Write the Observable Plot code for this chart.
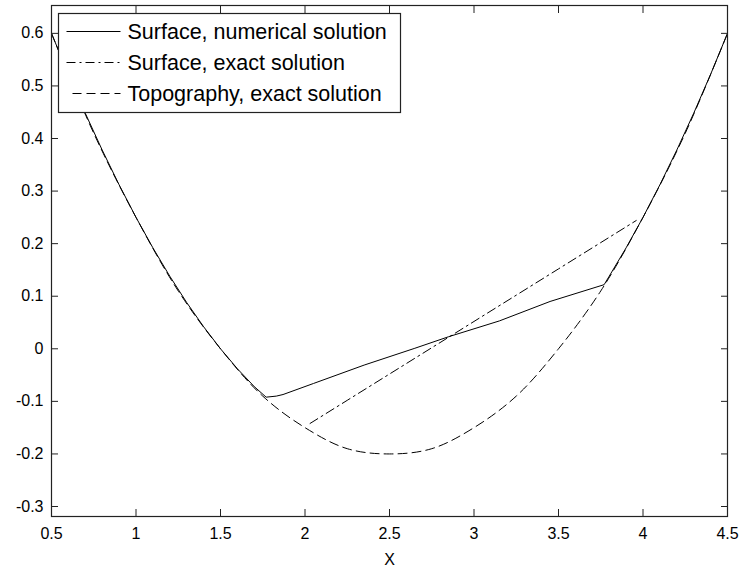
<!DOCTYPE html>
<html><head><meta charset="utf-8">
<script src="https://cdn.jsdelivr.net/npm/d3@7"></script>
<script src="https://cdn.jsdelivr.net/npm/@observablehq/plot@0.6"></script>
<style>body{margin:0;background:#fff}#chart{position:relative;width:740px;height:571px}</style>
</head><body><div id="chart"></div>
<script>
// Surface, numerical solution
const numX = [0.5, 0.6, 0.7, 0.8, 0.9, 1.0, 1.1, 1.2, 1.3, 1.4, 1.5, 1.6, 1.7, 1.77, 1.83, 1.87, 2.05, 2.35, 2.65, 2.85, 3.15, 3.45, 3.77, 3.8, 3.9, 4.0, 4.1, 4.2, 4.3, 4.4, 4.5];
const numY = [0.6, 0.522, 0.448, 0.378, 0.312, 0.25, 0.192, 0.138, 0.088, 0.042, 0.0, -0.038, -0.072, -0.092, -0.090, -0.087, -0.066, -0.031, 0.001, 0.023, 0.053, 0.090, 0.122, 0.138, 0.192, 0.25, 0.312, 0.378, 0.448, 0.522, 0.6];
// Surface, exact solution
const exactX = [2.03, 2.25, 2.5, 2.75, 3.0, 3.25, 3.5, 3.75, 3.96];
const exactY = [-0.142, -0.098, -0.048, 0.002, 0.052, 0.102, 0.152, 0.202, 0.244];
// Topography, exact solution
const topoX = [0.5, 0.75, 1.0, 1.25, 1.5, 1.75, 2.0, 2.25, 2.5, 2.75, 3.0, 3.25, 3.5, 3.75, 4.0, 4.25, 4.5];
const topoY = [0.6, 0.41, 0.25, 0.11, 0.0, -0.09, -0.15, -0.19, -0.2, -0.19, -0.15, -0.09, 0.0, 0.11, 0.25, 0.41, 0.6];

const xTicks = [0.5, 1, 1.5, 2, 2.5, 3, 3.5, 4, 4.5];
const yTicks = [-0.3, -0.2, -0.1, 0, 0.1, 0.2, 0.3, 0.4, 0.5, 0.6];
const xLabel = "X";
const seriesNames = ["Surface, numerical solution", "Surface, exact solution", "Topography, exact solution"];

const num = numX.map((x, i) => ({x, y: numY[i]}));
const exact = exactX.map((x, i) => ({x, y: exactY[i]}));
const topo = topoX.map((x, i) => ({x, y: topoY[i]}));

const dashes = [null, "9,4,2,4", "9,5"];
const axisColor = "#222";
const fmt = d => String(+d.toFixed(1));
const none = () => "";
const T = 7; // tick length (inward)

const chart = Plot.plot({
  width: 740, height: 571,
  marginLeft: 51, marginRight: 13, marginTop: 5, marginBottom: 55,
  style: {fontFamily: "'Liberation Sans', Arial, sans-serif", fontSize: "16px", background: "#fff", color: "#000", overflow: "visible"},
  x: {domain: [0.5, 4.5]},
  y: {domain: [-0.319, 0.653]},
  marks: [
    Plot.line(topo, {x: "x", y: "y", stroke: "#000", strokeWidth: 1, strokeDasharray: dashes[2], curve: "catmull-rom"}),
    Plot.line(exact, {x: "x", y: "y", stroke: "#000", strokeWidth: 1, strokeDasharray: dashes[1]}),
    Plot.line(num, {x: "x", y: "y", stroke: "#000", strokeWidth: 1}),
    Plot.frame({stroke: axisColor, strokeWidth: 1.2}),
    // tick labels
    Plot.axisX({ticks: xTicks, tickSize: 0, tickPadding: 11, tickFormat: d => String(d), label: null}),
    Plot.axisY({ticks: yTicks, tickSize: 0, tickPadding: 8, tickFormat: fmt, label: null}),
    // inward tick marks on all four sides
    Plot.axisX({ticks: xTicks, tickSize: T, dy: -T, tickFormat: none, label: null, stroke: axisColor}),
    Plot.axisX({anchor: "top", ticks: xTicks, tickSize: T, dy: T, tickFormat: none, label: null, stroke: axisColor}),
    Plot.axisY({ticks: yTicks, tickSize: T, dx: T, tickFormat: none, label: null, stroke: axisColor}),
    Plot.axisY({anchor: "right", ticks: yTicks, tickSize: T, dx: -T, tickFormat: none, label: null, stroke: axisColor}),
    Plot.text([xLabel], {frameAnchor: "bottom", lineAnchor: "middle", dy: 43, text: d => d, fontSize: 16})
  ]
});
document.getElementById("chart").appendChild(chart);

// Legend (drawn inside the plot frame, top-left)
const svg = d3.select(chart);
const lg = svg.append("g").attr("transform", "translate(58.5,13.5)");
lg.append("rect").attr("width", 342).attr("height", 99).attr("fill", "#fff").attr("stroke", axisColor).attr("stroke-width", 1.2);
seriesNames.forEach((name, i) => {
  const cy = 18 + i * 31;
  lg.append("line").attr("x1", i === 2 ? 14 : 8).attr("x2", 62).attr("y1", cy).attr("y2", cy)
    .attr("stroke", "#000").attr("stroke-width", 1).attr("stroke-dasharray", dashes[i]);
  lg.append("text").attr("x", 69).attr("y", cy).attr("dy", "0.35em").attr("text-anchor", "start")
    .attr("font-family", "'Liberation Sans', Arial, sans-serif").attr("font-size", 21.5).attr("fill", "#000").text(name);
});
</script>
</body></html>
